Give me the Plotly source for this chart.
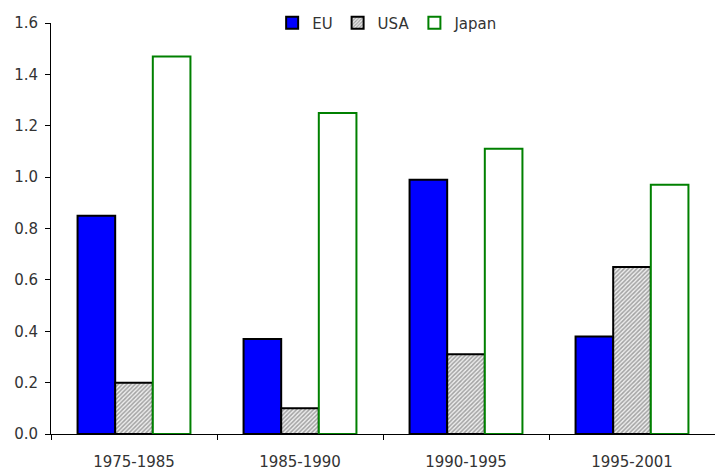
import plotly.graph_objects as go

categories = ["1975-1985", "1985-1990", "1990-1995", "1995-2001"]
eu = [0.85, 0.37, 0.99, 0.38]
usa = [0.20, 0.10, 0.31, 0.65]
japan = [1.47, 1.25, 1.11, 0.97]
y_ticks = [0.0, 0.2, 0.4, 0.6, 0.8, 1.0, 1.2, 1.4, 1.6]
y_labels = ["0.0", "0.2", "0.4", "0.6", "0.8", "1.0", "1.2", "1.4", "1.6"]

font = "'DejaVu Sans', sans-serif"

fig = go.Figure()
fig.add_trace(go.Bar(name="EU", x=categories, y=eu,
                     marker=dict(color="#0000ff", line=dict(color="black", width=2))))
fig.add_trace(go.Bar(name="USA", x=categories, y=usa,
                     marker=dict(color="white", line=dict(color="black", width=2),
                                 pattern=dict(shape="/", fgcolor="#555555", bgcolor="#eeeeee",
                                              size=3, solidity=0.5))))
fig.add_trace(go.Bar(name="Japan", x=categories, y=japan,
                     marker=dict(color="white", line=dict(color="#008000", width=2))))

fig.update_layout(
    width=715, height=472,
    margin=dict(l=51, r=0, t=23, b=38, autoexpand=False),
    plot_bgcolor="white", paper_bgcolor="white",
    barmode="group", bargap=0.32, bargroupgap=0,
    font=dict(family=font, size=15, color="#333333"),
    showlegend=True,
    legend=dict(orientation="h", x=0.507, xanchor="center", y=1.0, yanchor="middle",
                font=dict(size=15), bgcolor="rgba(0,0,0,0)", itemwidth=30,
                traceorder="normal"),
    xaxis=dict(showline=True, linecolor="black", linewidth=1, ticks="outside",
               tickson="boundaries", ticklen=5, tickcolor="black",
               showgrid=False, tickfont=dict(size=15), automargin=False,
               ticklabelstandoff=14),
    yaxis=dict(range=[0, 1.6], tickvals=y_ticks, ticktext=y_labels,
               showline=True, linecolor="black", linewidth=1, ticks="outside",
               ticklen=5, tickcolor="black", showgrid=False, zeroline=False,
               tickfont=dict(size=15), automargin=False, ticklabelstandoff=4),
)

fig.write_html("out.html", config={"displayModeBar": False},
               post_script="document.body.style.margin='0';document.body.style.overflow='hidden';")
